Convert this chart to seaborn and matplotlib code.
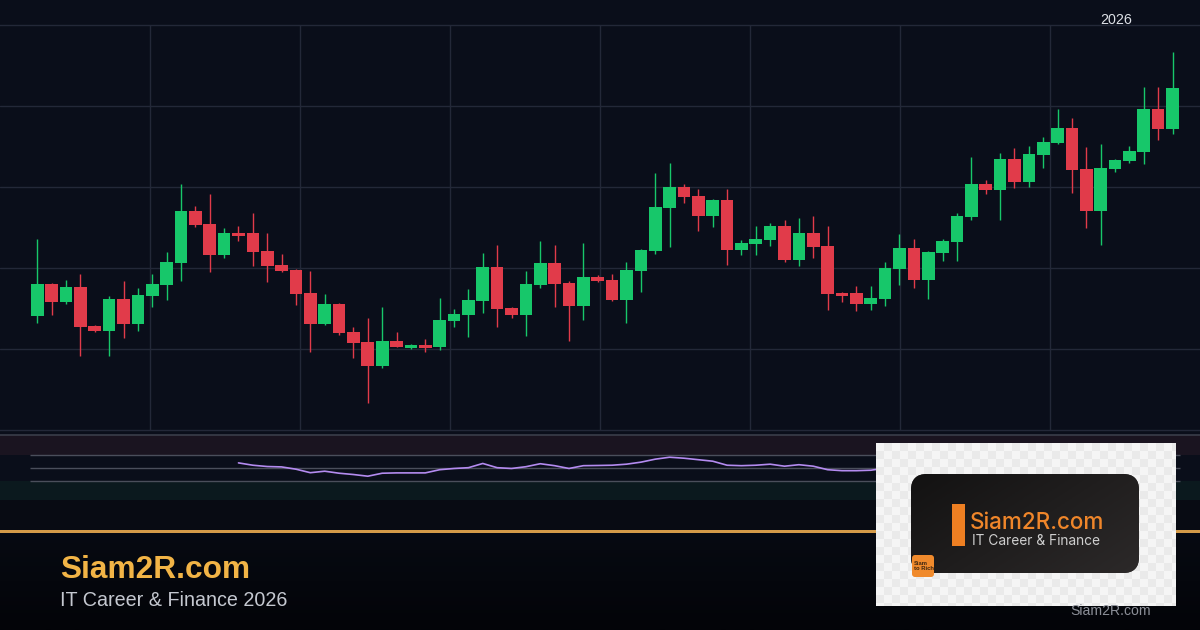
import numpy as np
import pandas as pd
import matplotlib.pyplot as plt
import seaborn as sns
from matplotlib.patches import Rectangle, FancyBboxPatch
from matplotlib.colors import LinearSegmentedColormap

# candle data (price units, no scale shown)
opens = [104.11, 108.02, 105.84, 107.65, 102.84, 102.26, 106.17, 103.09, 106.58, 107.94,
         110.62, 117.04, 115.43, 111.60, 114.28, 114.28, 112.10, 110.37, 109.75, 106.91,
         103.12, 105.56, 102.10, 100.86, 97.94, 100.99, 100.16, 100.53, 100.28, 103.49,
         104.23, 105.96, 110.12, 105.06, 104.23, 107.94, 110.62, 108.19, 105.35, 108.89,
         108.52, 106.09, 109.67, 112.14, 117.44, 120.00, 118.89, 116.46, 118.40, 112.26,
         113.00, 113.49, 115.19, 111.02, 114.32, 112.72, 106.91, 106.91, 105.59, 106.21,
         109.91, 112.47, 108.56, 111.89, 113.25, 116.33, 120.37, 119.67, 123.46, 120.65,
         123.99, 125.43, 127.28, 122.22, 117.07, 122.26, 123.21, 124.32, 129.63, 127.20]
highs = [113.58, 108.19, 108.48, 109.26, 102.96, 106.51, 108.40, 107.49, 109.26, 111.94,
         120.33, 117.65, 119.10, 114.94, 115.19, 116.75, 114.28, 111.73, 109.88, 109.63,
         106.75, 105.68, 102.72, 103.86, 105.19, 102.10, 100.62, 101.20, 106.30, 104.94,
         107.41, 111.85, 112.84, 105.19, 109.63, 113.33, 112.84, 108.40, 113.09, 109.14,
         109.26, 110.74, 112.35, 121.73, 122.96, 120.37, 119.75, 118.56, 119.75, 113.42,
         115.15, 115.56, 115.93, 116.17, 116.42, 115.19, 107.04, 107.81, 107.81, 110.74,
         114.20, 113.58, 112.10, 113.58, 116.79, 123.70, 120.86, 124.20, 124.81, 125.06,
         126.17, 129.63, 128.52, 124.94, 125.31, 123.42, 125.06, 132.35, 132.35, 136.67]
lows = [103.25, 104.20, 105.59, 99.14, 102.16, 99.14, 101.40, 102.26, 105.19, 106.09,
        108.40, 115.06, 109.54, 111.27, 113.33, 110.28, 108.31, 109.54, 105.47, 99.67,
        102.96, 101.77, 98.93, 93.37, 97.62, 100.21, 100.04, 99.67, 99.91, 102.75,
        101.52, 104.48, 102.75, 103.86, 101.64, 107.57, 105.22, 101.02, 103.62, 108.31,
        105.96, 103.25, 107.07, 111.77, 112.63, 118.06, 114.60, 115.10, 110.41, 111.64,
        111.64, 112.75, 110.78, 110.28, 111.23, 104.85, 105.84, 104.73, 104.85, 105.35,
        107.94, 107.57, 106.21, 110.90, 110.90, 115.93, 119.17, 115.96, 119.91, 120.04,
        122.38, 125.35, 119.30, 114.98, 112.88, 121.89, 123.00, 122.88, 125.84, 126.58]
closes = [108.02, 105.84, 107.65, 102.72, 102.26, 106.17, 103.09, 106.67, 108.02, 110.70,
          117.04, 115.31, 111.60, 114.28, 113.95, 111.98, 110.28, 109.67, 106.83, 103.12,
          105.56, 102.01, 100.78, 97.94, 100.99, 100.28, 100.53, 100.16, 103.58, 104.32,
          106.05, 110.12, 104.98, 104.23, 108.02, 110.62, 108.06, 105.35, 108.89, 108.43,
          106.09, 109.75, 112.22, 117.53, 120.00, 118.80, 116.46, 118.40, 112.26, 113.05,
          113.58, 115.19, 111.02, 114.32, 112.63, 106.79, 106.58, 105.59, 106.30, 110.00,
          112.47, 108.56, 111.98, 113.33, 116.42, 120.37, 119.67, 123.46, 120.65, 124.07,
          125.56, 127.28, 122.14, 117.07, 122.35, 123.33, 124.44, 129.63, 127.20, 132.22]

# RSI line starts at candle 14
rsi_start = 14
rsi_values = [57.1, 53.5, 51.5, 50.9, 47.4, 42.0, 44.3, 41.2, 39.2, 36.6,
              41.2, 41.7, 41.7, 41.7, 46.6, 48.5, 49.7, 56.2, 49.7, 48.5,
              51.2, 55.8, 52.8, 48.5, 52.8, 53.1, 53.5, 55.1, 58.2, 62.8,
              65.8, 64.3, 62.0, 59.7, 53.5, 52.8, 53.5, 55.1, 52.0, 54.3,
              52.0, 46.6, 45.1, 45.1, 45.8, 48.9, 52.0, 55.0, 53.0, 55.0,
              58.0, 63.0, 62.0, 64.0, 60.0, 62.0, 64.0, 66.0, 58.0, 52.0,
              56.0, 57.0, 58.0, 64.0, 60.0, 66.0]
rsi_levels = [70, 50, 30]

year_label = "2026"
site_name = "Siam2R.com"
tagline = "IT Career & Finance 2026"
logo_tagline = "IT Career & Finance"
logo_badge = "Siam\nto Rich"

BG = '#0a0e1a'
GRID = '#232838'
UP = '#17c76a'
DOWN = '#e13b4a'

W, H = 1200, 630
FIRST_PX, STEP_PX = 37.3, 14.37  # where candle 0 sits and candle spacing

sns.set_theme(style='dark')
plt.rcParams['font.family'] = ['Liberation Sans', 'DejaVu Sans']

df = pd.DataFrame({'open': opens, 'high': highs, 'low': lows, 'close': closes})
df['idx'] = np.arange(len(df))
df['up'] = df['close'] >= df['open']

rsi = pd.DataFrame({'idx': np.arange(rsi_start, rsi_start + len(rsi_values)),
                    'rsi': rsi_values})

fig = plt.figure(figsize=(12, 6.3), dpi=100)
fig.patch.set_facecolor(BG)


def px_axes(left, top, right, bottom, **kw):
    return fig.add_axes([left / W, 1 - bottom / H, (right - left) / W, (bottom - top) / H], **kw)


def px_to_x(px):
    return (np.asarray(px, dtype=float) - FIRST_PX) / STEP_PX


xlim = (px_to_x(0), px_to_x(W))

# background layers
bg = px_axes(0, 0, W, H, zorder=0)
bg.axis('off')
bg.add_patch(Rectangle((0, 0), W, 500, color=BG))
bg.add_patch(Rectangle((0, 500), W, 30, color='#080b13'))
footer_cmap = LinearSegmentedColormap.from_list('footer', ['#070a12', '#030408'])
bg.imshow(np.linspace(0, 1, 64).reshape(-1, 1), cmap=footer_cmap, aspect='auto',
          extent=(0, W, H, 533), zorder=1)
bg.set_xlim(0, W)
bg.set_ylim(H, 0)

# price panel
ax = px_axes(0, 25, W, 430, zorder=2)
ax.set_facecolor('none')
ax.set_xlim(*xlim)
ax.set_ylim(90, 140)
ax.set_yticks([100, 110, 120, 130])
ax.set_xticks(px_to_x(np.arange(150, 1051, 150)))
ax.grid(True, color=GRID, linewidth=1)
ax.tick_params(length=0, labelleft=False, labelbottom=False)
for side in ['left', 'right']:
    ax.spines[side].set_visible(False)
for side in ['top', 'bottom']:
    ax.spines[side].set_color(GRID)
    ax.spines[side].set_linewidth(1)

colors = np.where(df['up'], UP, DOWN)
body_low = df[['open', 'close']].min(axis=1)
body_h = (df['close'] - df['open']).abs().clip(lower=0.3)
ax.vlines(df['idx'], df['low'], df['high'], colors=colors, linewidth=1.0, zorder=3)
ax.bar(df['idx'], body_h, bottom=body_low, width=0.88, color=colors,
       linewidth=0, zorder=4)

# RSI panel
rax = px_axes(0, 435, W, 500, zorder=2)
rax.set_facecolor('none')
rax.set_xlim(*xlim)
rax.set_ylim(0, 100)
rax.axhspan(70, 100, color='#1a1420', linewidth=0)
rax.axhspan(0, 30, color='#0b191e', linewidth=0)
rax.hlines(rsi_levels, px_to_x(30), px_to_x(1180), color='#4a4e5b', linewidth=1)
sns.lineplot(data=rsi, x='idx', y='rsi', color='#b48bf0', linewidth=1.2, ax=rax)
rax.set_xlabel('')
rax.set_ylabel('')
rax.set_xticks([])
rax.set_yticks([])
rax.grid(False)
for side in ['left', 'right', 'bottom']:
    rax.spines[side].set_visible(False)
rax.spines['top'].set_color('#3a3e4a')
rax.spines['top'].set_linewidth(1.2)

# overlay: year label, footer, logo
ov = px_axes(0, 0, W, H, zorder=10)
ov.set_facecolor('none')
ov.axis('off')

ov.text(1100, 24, year_label, color='#dde0e6', fontsize=10.3, va='baseline', ha='left')

ov.add_patch(Rectangle((0, 530), W, 3.2, color='#d49a48', linewidth=0))
ov.text(60, 578.5, site_name, color='#f2b446', fontsize=22.8, fontweight='bold',
        va='baseline', ha='left')
ov.text(60, 606.5, tagline, color='#c4c8d0', fontsize=14.2, va='baseline', ha='left')

# logo card (checkered transparent-look background)
yy, xx = np.mgrid[0:163, 0:300]
checker = ((yy // 8 + xx // 8) % 2).astype(float)
ov.imshow(checker, cmap=LinearSegmentedColormap.from_list('chk', ['#f5f5f5', '#eaeaea']),
          extent=(876, 1176, 606, 443), aspect='auto', interpolation='bilinear', zorder=2)

card = FancyBboxPatch((911, 474), 228, 99, boxstyle='round,pad=0,rounding_size=16',
                      fc='#1e1c1c', ec='none', zorder=3)
ov.add_patch(card)
gy, gx = np.mgrid[0:1:60j, 0:1:120j]
card_cmap = LinearSegmentedColormap.from_list('card', ['#131212', '#2c2929'])
grad = ov.imshow(0.6 * gx + 0.4 * gy, cmap=card_cmap, extent=(911, 1139, 573, 474),
                 aspect='auto', zorder=3.5)
grad.set_clip_path(card)

ov.add_patch(Rectangle((952, 504), 12.5, 42, color='#ee7f22', linewidth=0, zorder=4))
ov.text(970, 528.7, site_name, color='#f0862a', fontsize=16.2, fontweight='medium',
        family=['Inter', 'DejaVu Sans'], va='baseline', ha='left', zorder=5)
ov.text(972, 545.3, logo_tagline, color='#cfcfcf', fontsize=9.9,
        family=['Inter', 'DejaVu Sans'], va='baseline', ha='left', zorder=5)

ov.add_patch(FancyBboxPatch((912, 555), 22, 22, boxstyle='round,pad=0,rounding_size=3',
                            fc='#f08a2c', ec='none', zorder=5))
ov.text(913.5, 566, logo_badge, color='#3b2410', fontsize=4.2, fontweight='bold',
        va='center', ha='left', linespacing=0.95, zorder=6)

ov.text(1070, 615, site_name, color='#8c8f98', fontsize=10.1, va='baseline', ha='left',
        zorder=5)

ov.set_xlim(0, W)
ov.set_ylim(H, 0)

fig.savefig('out.png', dpi=100, facecolor=fig.get_facecolor())
plt.close(fig)
